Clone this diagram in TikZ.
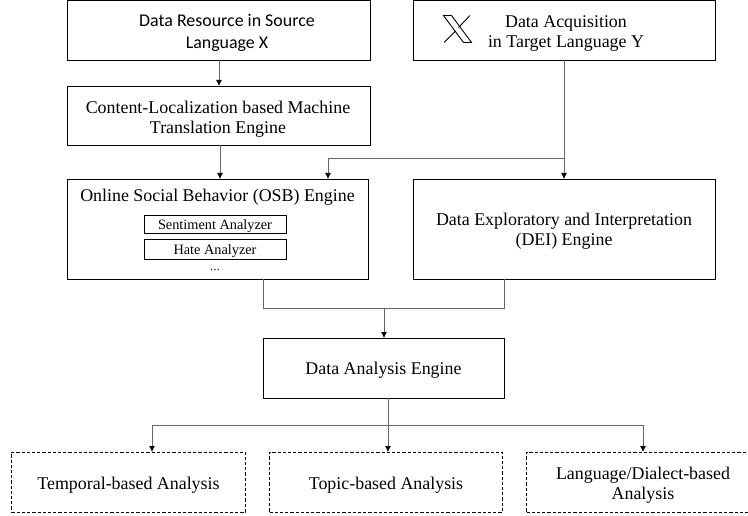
\documentclass[tikz,border=0pt]{standalone}
\usepackage{fontspec}
\setmainfont{Liberation Serif}
\newfontfamily\srcfont{Carlito}
\usetikzlibrary{arrows.meta,calc}
\tikzset{
 solidbox/.style={draw=black,line width=0.95pt,inner sep=1pt,outer sep=0pt,align=center,text height=16pt,font=\fontsize{17.9pt}{20.5pt}\selectfont},
 dashbox/.style={draw=black,line width=0.85pt,dash pattern=on 3.2pt off 2pt,inner sep=1pt,outer sep=0pt,align=center,text height=18pt,font=\fontsize{17.9pt}{20.5pt}\selectfont},
 smallbox/.style={draw=black,line width=0.8pt,inner sep=0pt,outer sep=0pt,align=center,text height=13.5pt,font=\fontsize{14.3pt}{16pt}\selectfont},
 plainlabel/.style={inner sep=0pt,align=center,font=\fontsize{17.9pt}{20.5pt}\selectfont},
 srclabel/.style={inner sep=0pt,align=center,font=\srcfont\fontsize{17.9pt}{22pt}\selectfont},
 conn/.style={draw=black!60,line width=0.75pt},
 arr/.style={conn,-{Latex[length=6pt,width=6pt,black]}}
}
\begin{document}
\begin{tikzpicture}[x=1pt,y=1pt]
\useasboundingbox (0,0) rectangle (748,-516);
% top row
\node[solidbox,minimum width=303pt,minimum height=60pt] (src) at (218.5,-30) {};
\node[srclabel] (srct) at (227,-33) {Data Resource in Source\\Language X};
\node[solidbox,minimum width=302pt,minimum height=60pt] (acq) at (564,-30) {};
\node[plainlabel] (acqt) at (566,-33.5) {Data Acquisition\\in Target Language Y};
% X logo
\draw[line width=0.9pt,line join=miter] (443.5,-15.5) -- (451.5,-15.5) -- (471.5,-42.5) -- (463.5,-42.5) -- cycle;
\draw[line width=0.9pt] (470,-15.5) -- (458.5,-27.5) (455.5,-31) -- (444,-42.5);
% second row
\node[solidbox,minimum width=303pt,minimum height=59pt] (mt) at (218.5,-115.5) {};
\node[plainlabel] (mtt) at (218,-119) {Content-Localization based Machine\\Translation Engine};
% third row
\node[solidbox,minimum width=301pt,minimum height=100pt] (osb) at (217.5,-229) {};
\node[plainlabel] (osbt) at (217.5,-197) {Online Social Behavior (OSB) Engine};
\node[smallbox,minimum width=142pt,minimum height=18pt] (sent) at (215,-224.5) {Sentiment Analyzer};
\node[smallbox,minimum width=142pt,minimum height=19.5pt] (hate) at (215,-249.5) {Hate Analyzer};
\node[inner sep=0pt,font=\fontsize{12pt}{12pt}\selectfont] (dots) at (215,-270) {.\kern0.3pt.\kern0.3pt.};
\node[solidbox,minimum width=302pt,minimum height=100pt] (dei) at (564,-229) {};
\node[plainlabel] (deit) at (564,-231) {Data Exploratory and Interpretation\\(DEI) Engine};
% analysis
\node[solidbox,minimum width=241pt,minimum height=60pt] (dae) at (383.5,-368) {Data Analysis Engine};
% bottom row
\node[dashbox,minimum width=234pt,minimum height=60pt] (tmp) at (128.5,-482) {Temporal-based Analysis};
\node[dashbox,minimum width=233pt,minimum height=60pt] (top) at (386,-482) {Topic-based Analysis};
\node[dashbox,minimum width=233pt,minimum height=60pt] (lang) at (643,-482) {};
\node[plainlabel] (langt) at (643,-485) {Language/Dialect-based\\Analysis};
% junctions
\coordinate (j1) at (564,-158.5);
\coordinate (j2) at (384,-308);
\coordinate (j3) at (388,-425);
% connectors
\draw[arr] (src.south -| 219,0) -- (mt.north -| 219,0);
\draw[arr] (mt.south -| 220,0) -- (osb.north -| 220,0);
\draw[arr] (acq.south) -- (dei.north);
\draw[arr] (j1) -- (j1 -| 328,0) -- (osb.north -| 328,0);
\draw[conn] (osb.south -| 263,0) -- (j2 -| 263,0) -- (j2 -| 504,0) -- (dei.south -| 504,0);
\draw[arr] (j2) -- (dae.north -| j2);
\draw[conn] (dae.south -| j3) -- (j3);
\draw[arr] (j3) -- (j3 -| 152,0) -- (tmp.north -| 152,0);
\draw[arr] (j3) -- (top.north -| j3);
\draw[arr] (j3) -- (j3 -| lang.north) -- (lang.north);
\end{tikzpicture}
\end{document}
